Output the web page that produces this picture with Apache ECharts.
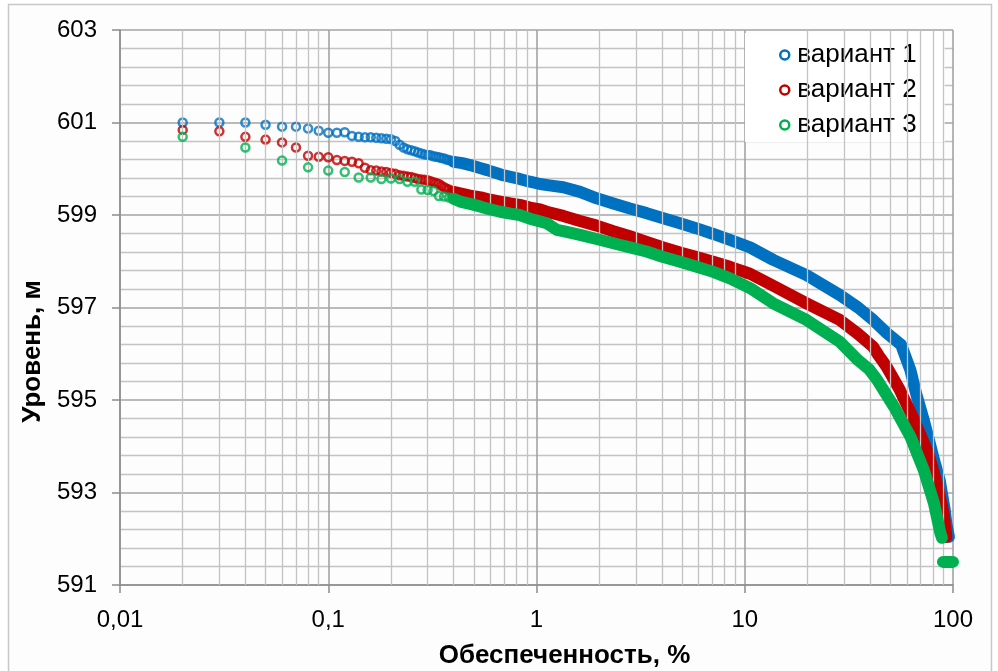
<!DOCTYPE html>
<html><head><meta charset="utf-8">
<script src="https://cdn.jsdelivr.net/npm/echarts@6/dist/echarts.min.js"></script>
<style>html,body{margin:0;padding:0;background:#fff}#c{width:998px;height:671px}</style>
</head><body><div id="c"></div>
<script>
const seriesNames = ['вариант 1', 'вариант 2', 'вариант 3'];
const xTickLabels = ['0,01', '0,1', '1', '10', '100'];
const minorXGrid = [0.02,0.03,0.04,0.05,0.06,0.07,0.08,0.09,
  0.2,0.3,0.4,0.5,0.6,0.7,0.8,0.9, 2,3,4,5,6,7,8,9, 20,30,40,50,60,70,80,90];

// вариант 1 — separate points (low exceedance)
const v1PtsX = [0.02,0.03,0.04,0.05,0.06,0.07,0.08,0.09,0.10,0.11,0.12,0.13,0.14,0.15,0.16,0.17,0.18,0.19,0.20,0.21,0.22,0.23,0.24,0.25,0.26,0.27,0.28,0.29,0.30,0.31,0.32,0.33,0.34,0.35,0.36,0.37,0.38,0.39,0.40];
const v1PtsY = [601.0,601.0,601.0,600.95,600.91,600.91,600.87,600.82,600.78,600.78,600.79,600.71,600.69,600.68,600.68,600.67,600.66,600.65,600.64,600.60,600.52,600.46,600.42,600.40,600.38,600.35,600.33,600.31,600.30,600.29,600.27,600.26,600.25,600.23,600.22,600.20,600.19,600.17,600.15];
// вариант 1 — dense part
const v1BandX = [0.40,0.44,0.48,0.53,0.58,0.64,0.69,0.76,0.83,0.93,1.04,1.15,1.345,1.618,1.945,2.338,2.81,3.38,4.06,4.89,5.88,7.06,8.49,10.6,13.7,19.8,28.6,35,41.6,48,56.4,59,62.4,66.5,72.3,76.6,81.1,86.3,88.5,91.3,92.9,95.6];
const v1BandY = [600.15,600.12,600.08,600.02,599.97,599.91,599.86,599.82,599.78,599.72,599.67,599.64,599.60,599.50,599.36,599.25,599.14,599.04,598.93,598.82,598.71,598.59,598.46,598.30,598.03,597.70,597.27,597.00,596.72,596.45,596.19,595.95,595.65,595.14,594.57,594.14,593.70,593.27,592.98,592.62,592.33,592.04];

// вариант 2
const v2PtsX = [0.02,0.03,0.04,0.05,0.06,0.07,0.08,0.09,0.10,0.11,0.12,0.13,0.14,0.15,0.16,0.17,0.18,0.19,0.20,0.21,0.22,0.23,0.24,0.25,0.26,0.27,0.28,0.29,0.30,0.31,0.32,0.33,0.34,0.35,0.36,0.37,0.38,0.39,0.40];
const v2PtsY = [600.84,600.81,600.69,600.63,600.57,600.46,600.28,600.26,600.25,600.19,600.17,600.15,600.12,600.02,599.97,599.96,599.94,599.93,599.91,599.89,599.86,599.85,599.83,599.82,599.80,599.78,599.77,599.76,599.75,599.73,599.71,599.69,599.67,599.63,599.60,599.57,599.55,599.52,599.50];
const v2BandX = [0.40,0.43,0.48,0.54,0.60,0.67,0.75,0.83,0.93,1.04,1.12,1.345,1.618,1.945,2.338,2.81,3.38,4.06,4.89,5.88,7.06,8.49,10.6,13.7,19.8,28.6,35,41.3,44,48,55.5,65,76,84.5,90,93];
const v2BandY = [599.50,599.47,599.42,599.38,599.33,599.29,599.25,599.22,599.16,599.12,599.07,598.98,598.87,598.77,598.65,598.54,598.42,598.30,598.19,598.09,597.99,597.88,597.73,597.47,597.09,596.73,596.43,596.15,595.96,595.72,595.22,594.57,593.85,593.13,592.55,592.04];

// вариант 3
const v3PtsX = [0.02,0.04,0.06,0.08,0.10,0.12,0.14,0.16,0.18,0.20,0.22,0.24,0.26,0.28,0.30,0.32,0.34,0.36,0.38,0.40];
const v3PtsY = [600.69,600.46,600.18,600.03,599.96,599.93,599.81,599.81,599.78,599.79,599.78,599.72,599.72,599.55,599.54,599.52,599.41,599.40,599.38,599.35];
const v3BandX = [0.40,0.43,0.48,0.54,0.60,0.67,0.75,0.83,0.93,1.12,1.25,1.345,1.618,1.945,2.338,2.81,3.38,4.06,4.89,5.88,7.06,8.49,10.6,13.7,19.8,28.6,35,39.6,43.3,52,62.4,72.3,81,87,88.5];
const v3BandY = [599.35,599.29,599.24,599.18,599.12,599.07,599.03,599.00,598.92,598.82,598.68,598.65,598.57,598.48,598.39,598.30,598.21,598.09,597.99,597.88,597.77,597.63,597.42,597.09,596.73,596.26,595.86,595.66,595.43,594.86,594.21,593.49,592.77,592.12,592.02];
const v3TailX = [89.5, 100];
const v3TailY = [591.5, 591.5];

const colors = ['#0070C0', '#C00000', '#00B050'];
const FONT = 'Liberation Sans, Arial, sans-serif';

const zip = (xs, ys) => xs.map((x, i) => [x, ys[i]]);

const pts = [zip(v1PtsX, v1PtsY), zip(v2PtsX, v2PtsY), zip(v3PtsX, v3PtsY)];
const bands = [zip(v1BandX, v1BandY), zip(v2BandX, v2BandY), zip(v3BandX, v3BandY)];

const series = [{
  type: 'line', data: [], z: 1, silent: true, symbol: 'none',
  markLine: {
    silent: true, symbol: ['none', 'none'], animation: false,
    label: { show: false },
    lineStyle: { type: 'solid', color: '#c3c3c3', width: 1.3 },
    emphasis: { disabled: true },
    data: minorXGrid.map(v => ({ xAxis: v }))
  }
}];
for (let i = 0; i < 3; i++) {
  series.push({
    name: seriesNames[i], type: 'line', data: bands[i], z: 3 + i,
    showSymbol: false, symbol: 'none', clip: false, silent: true,
    lineStyle: { width: 12, color: colors[i], cap: 'round', join: 'round' },
    itemStyle: { color: colors[i] }
  });
  series.push({
    name: seriesNames[i], type: 'scatter', data: pts[i], z: 3 + i,
    symbol: 'circle', symbolSize: 8, clip: false, silent: true,
    itemStyle: { color: 'rgba(0,0,0,0)', borderColor: colors[i], borderWidth: 2.5 }
  });
}
series.push({
  name: seriesNames[2], type: 'line', data: zip(v3TailX, v3TailY), z: 5,
  showSymbol: false, symbol: 'none', clip: false, silent: true,
  lineStyle: { width: 12, color: colors[2], cap: 'round', join: 'round' }
});

const chart = echarts.init(document.getElementById('c'), null, { renderer: 'canvas' });
chart.setOption({
  animation: false,
  backgroundColor: '#ffffff',
  textStyle: { fontFamily: FONT },
  graphic: [{
    type: 'rect', z: -100, silent: true,
    shape: { x: 8.5, y: 4.5, width: 983, height: 700 },
    style: { fill: '#fdfdfe', stroke: '#c8c8c8', lineWidth: 1.5 }
  }],
  grid: { left: 120, right: 45, top: 30, bottom: 86, containLabel: false, outerBoundsMode: 'none' },
  legend: {
    orient: 'vertical', left: 745, top: 33,
    backgroundColor: '#ffffff',
    padding: [9, 28, 4, 34], itemGap: 9,
    itemWidth: 9, itemHeight: 9, icon: 'circle',
    textStyle: { fontSize: 26, color: '#000', fontFamily: FONT, padding: [0, 0, 0, 3] },
    data: seriesNames.map((n, i) => ({
      name: n, icon: 'circle',
      itemStyle: { color: '#ffffff', borderColor: colors[i], borderWidth: 2.5 }
    }))
  },
  xAxis: {
    type: 'log', logBase: 10, min: 0.01, max: 100,
    name: 'Обеспеченность, %', nameLocation: 'middle', nameGap: 58,
    nameTextStyle: { fontSize: 26, fontWeight: 'bold', color: '#000', fontFamily: FONT, padding: [0, 0, 0, 56] },
    axisLine: { show: true, lineStyle: { color: '#8c8c8c', width: 1.5 } },
    axisTick: { show: true, length: 8, inside: false, lineStyle: { color: '#8c8c8c', width: 1.5 } },
    axisLabel: {
      fontSize: 24, color: '#000', margin: 23, fontFamily: FONT,
      formatter: v => xTickLabels[Math.round(Math.log10(v)) + 2]
    },
    splitLine: { show: true, lineStyle: { color: '#a3a3a3', width: 1.6 } },
    minorTick: { show: false },
    minorSplitLine: { show: false }
  },
  yAxis: {
    type: 'value', min: 591, max: 603, interval: 2,
    name: 'Уровень, м', nameLocation: 'middle', nameGap: 74, nameRotate: 90,
    nameTextStyle: { fontSize: 26, fontWeight: 'bold', color: '#000', fontFamily: FONT, padding: [0, 88, 0, 0] },
    axisLine: { show: true, lineStyle: { color: '#8c8c8c', width: 1.5 } },
    axisTick: { show: true, length: 8, inside: false, lineStyle: { color: '#8c8c8c', width: 1.5 } },
    axisLabel: { fontSize: 24, color: '#000', margin: 23, fontFamily: FONT },
    splitLine: { show: true, lineStyle: { color: '#a3a3a3', width: 1.6 } },
    minorTick: { show: false, splitNumber: 5 },
    minorSplitLine: { show: true, lineStyle: { color: '#c3c3c3', width: 1.3 } }
  },
  series: series
});
</script>
</body></html>
